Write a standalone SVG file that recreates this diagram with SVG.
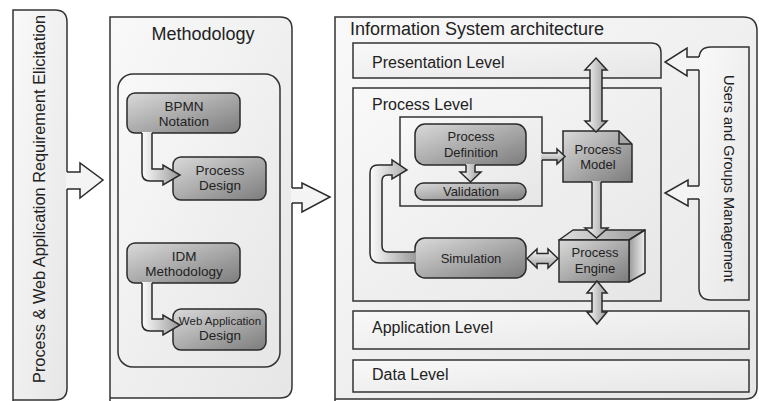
<svg xmlns="http://www.w3.org/2000/svg" width="759" height="401" viewBox="0 0 759 401">
<defs>
<linearGradient id="gBox" x1="0" y1="0" x2="1" y2="1"><stop offset="0" stop-color="#f9f9f9"/><stop offset="1" stop-color="#e6e6e6"/></linearGradient>
<linearGradient id="gNode" x1="0" y1="0" x2="1" y2="1"><stop offset="0" stop-color="#dadada"/><stop offset="1" stop-color="#7c7c7c"/></linearGradient>
<linearGradient id="gArrV" x1="0" y1="0" x2="1" y2="0"><stop offset="0" stop-color="#fbfbfb"/><stop offset="1" stop-color="#9a9a9a"/></linearGradient>
<linearGradient id="gArrH" x1="0" y1="0" x2="0" y2="1"><stop offset="0" stop-color="#fbfbfb"/><stop offset="1" stop-color="#a0a0a0"/></linearGradient>
<linearGradient id="gSide" x1="0" y1="0" x2="1" y2="0"><stop offset="0" stop-color="#9a9a9a"/><stop offset="1" stop-color="#f0f0f0"/></linearGradient>
<linearGradient id="gTop" x1="0" y1="0" x2="1" y2="0"><stop offset="0" stop-color="#e0e0e0"/><stop offset="1" stop-color="#9c9c9c"/></linearGradient>
</defs>
<style>
.box{fill:url(#gBox);stroke:#333;stroke-width:1.5}
.node{fill:url(#gNode);stroke:#2a2a2a;stroke-width:1.5}
.ln{fill:none;stroke:#2a2a2a;stroke-width:1.5;stroke-linejoin:miter}
.big{fill:#f4f4f4;stroke:none}
.t{font-family:"Liberation Sans",Arial,sans-serif;fill:#222}
.title{font-size:18px}
.lvl{font-size:16px}
.n{font-size:13.5px;text-anchor:middle}
.n2{font-size:13px;text-anchor:middle}
</style>
<rect x="0" y="0" width="759" height="401" fill="#ffffff"/>

<g id="elicitation">
<path class="box" d="M13,402 V10 H55 Q67,10 67,22 V388 Q67,400 55,400 H13"/>
<text class="t" transform="translate(45,199) rotate(-90)" font-size="17" text-anchor="middle" textLength="368" lengthAdjust="spacingAndGlyphs">Process &amp; Web Application Requirement Elicitation</text>
</g>

<g id="methodology">
<path class="box" d="M110,402 V17 H280 Q292,17 292,29 V386 Q292,398 280,398 H110"/>
<text class="t title" x="203" y="40" text-anchor="middle">Methodology</text>
<rect class="box" x="118" y="74" width="162" height="293" rx="15"/>
</g>

<g id="bpmn">
<rect class="node" x="127" y="93" width="113" height="40" rx="8"/>
<text class="t n" x="184" y="111">BPMN</text>
<text class="t n" x="184" y="126">Notation</text>
</g>
<g id="process-design">
<rect class="node" x="173" y="157" width="93" height="43" rx="8"/>
<text class="t n" x="220" y="175">Process</text>
<text class="t n" x="220" y="190">Design</text>
</g>
<g id="idm">
<rect class="node" x="127" y="243" width="113" height="40" rx="8"/>
<text class="t n" x="184" y="261">IDM</text>
<text class="t n" x="184" y="276">Methodology</text>
</g>
<g id="web-app-design">
<rect class="node" x="173" y="309" width="93" height="41" rx="8"/>
<text class="t" x="220" y="325" font-size="11.5" text-anchor="middle">Web Application</text>
<text class="t n" x="220" y="340">Design</text>
</g>

<g id="is-architecture">
<path class="box" d="M335,402 V17 H743 Q757,17 757,31 V387 Q757,399 745,399 H335"/>
<text class="t title" x="350" y="35">Information System architecture</text>
</g>
<g id="presentation">
<path class="box" d="M353,43 H651 Q661,43 661,53 V78 H353 Z"/>
<text class="t lvl" x="372" y="68">Presentation Level</text>
</g>
<g id="process-level">
<rect class="box" x="353" y="88" width="308" height="213"/>
<text class="t lvl" x="372" y="110">Process Level</text>
<rect class="box" x="400" y="117" width="142" height="89"/>
</g>
<g id="process-definition">
<rect class="node" x="415" y="124" width="111" height="41" rx="10"/>
<text class="t n2" x="471" y="141">Process</text>
<text class="t n2" x="471" y="157">Definition</text>
</g>
<g id="validation">
<rect class="node" x="415" y="183" width="111" height="17" rx="8.5"/>
<text class="t n2" x="471" y="196">Validation</text>
</g>
<g id="simulation">
<rect class="node" x="415" y="238" width="111" height="40" rx="10"/>
<text class="t n2" x="471" y="263">Simulation</text>
</g>
<g id="process-model">
<path class="node" d="M563,131 H619 L632,144 V182 H563 Z"/>
<path class="ln" d="M619,131 V144 H632"/>
<text class="t n2" x="598" y="154">Process</text>
<text class="t n2" x="598" y="169">Model</text>
</g>
<g id="process-engine">
<polygon points="559,240 573,230 645,230 629,240" fill="url(#gTop)" stroke="#2a2a2a" stroke-width="1.5" stroke-linejoin="round"/>
<polygon points="629,240 645,230 645,273 629,282" fill="url(#gSide)" stroke="#2a2a2a" stroke-width="1.5" stroke-linejoin="round"/>
<rect class="node" x="559" y="240" width="70" height="42"/>
<text class="t n2" x="595" y="257">Process</text>
<text class="t n2" x="595" y="273">Engine</text>
</g>
<g id="application">
<rect class="box" x="353" y="311" width="396" height="38"/>
<text class="t lvl" x="372" y="333">Application Level</text>
</g>
<g id="data">
<rect class="box" x="353" y="360" width="396" height="32"/>
<text class="t lvl" x="372" y="380">Data Level</text>
</g>
<g id="users-groups">
<path class="box" d="M711,47 H749 V300 H711 Q699,300 699,288 V59 Q699,47 711,47 Z"/>
<text class="t" transform="translate(724,178.5) rotate(90)" font-size="15" text-anchor="middle" textLength="207" lengthAdjust="spacingAndGlyphs">Users and Groups Management</text>
</g>

<g id="connectors">
<polygon class="big" points="66,172 80,172 80,163 103,180 80,198 80,189 66,189"/>
<polyline class="ln" points="67,172 80,172 80,163 103,180 80,198 80,189 67,189"/>
<polygon class="big" points="291,188 302,188 302,183 330,197 302,212 302,203 291,203"/>
<polyline class="ln" points="292,188 302,188 302,183 330,197 302,212 302,203 292,203"/>
<path d="M142,132 V173 Q142,181 150,181 H163 V185 L180,175 L163,165 V169 H152 V132" fill="url(#gArrV)"/>
<path class="ln" d="M142,133 V173 Q142,181 150,181 H163 V185 L180,175 L163,165 V169 H152 V133"/>
<path d="M142,282 V323 Q142,331 150,331 H163 V335 L180,325 L163,315 V319 H152 V282" fill="url(#gArrV)"/>
<path class="ln" d="M142,283 V323 Q142,331 150,331 H163 V335 L180,325 L163,315 V319 H152 V283"/>
<polygon class="big" points="700,57 687,57 687,48 665,62 687,76 687,70 700,70"/>
<polyline class="ln" points="699,57 687,57 687,48 665,62 687,76 687,70 699,70"/>
<polygon class="big" points="700,186 688,186 688,180 665,193 688,206 688,199 700,199"/>
<polyline class="ln" points="699,186 688,186 688,180 665,193 688,206 688,199 699,199"/>
<path d="M596,58 L607,70 H602 V121 H607 L596,132 L585,121 H590 V70 H585 Z" fill="url(#gArrV)" stroke="#2a2a2a" stroke-width="1.5"/>
<path d="M592,181 V228 H585 L596.5,238 L608,228 H601 V181" fill="url(#gArrV)"/>
<path class="ln" d="M592,182 V228 H585 L596.5,238 L608,228 H601 V182"/>
<path d="M597,281 L607,293 H602 V312 H607 L597,324 L587,312 H592 V293 H587 Z" fill="url(#gArrV)" stroke="#2a2a2a" stroke-width="1.5"/>
<path d="M527,258.5 L537,249 V253.5 H548 V249 L558,258.5 L548,268 V263.5 H537 V268 Z" fill="url(#gArrH)" stroke="#2a2a2a" stroke-width="1.5"/>
<path d="M541,153 H557 V149 L565,156.5 L557,164 V160 H541" fill="url(#gArrH)"/>
<path class="ln" d="M542,153 H557 V149 L565,156.5 L557,164 V160 H542"/>
<path d="M466,164 V172 H460 L470.5,182 L481,172 H475 V164" fill="url(#gArrV)"/>
<path class="ln" d="M466,165 V172 H460 L470.5,182 L481,172 H475 V165"/>
<path d="M416,263 H380 Q370,263 370,253 V173 Q370,165 378,165 H392 V160 L407,170 L392,179 V175 H388 Q382,175 382,181 V246 Q382,252 388,252 H416" fill="url(#gArrV)"/>
<path class="ln" d="M415,263 H380 Q370,263 370,253 V173 Q370,165 378,165 H392 V160 L407,170 L392,179 V175 H388 Q382,175 382,181 V246 Q382,252 388,252 H415"/>
</g>
</svg>
